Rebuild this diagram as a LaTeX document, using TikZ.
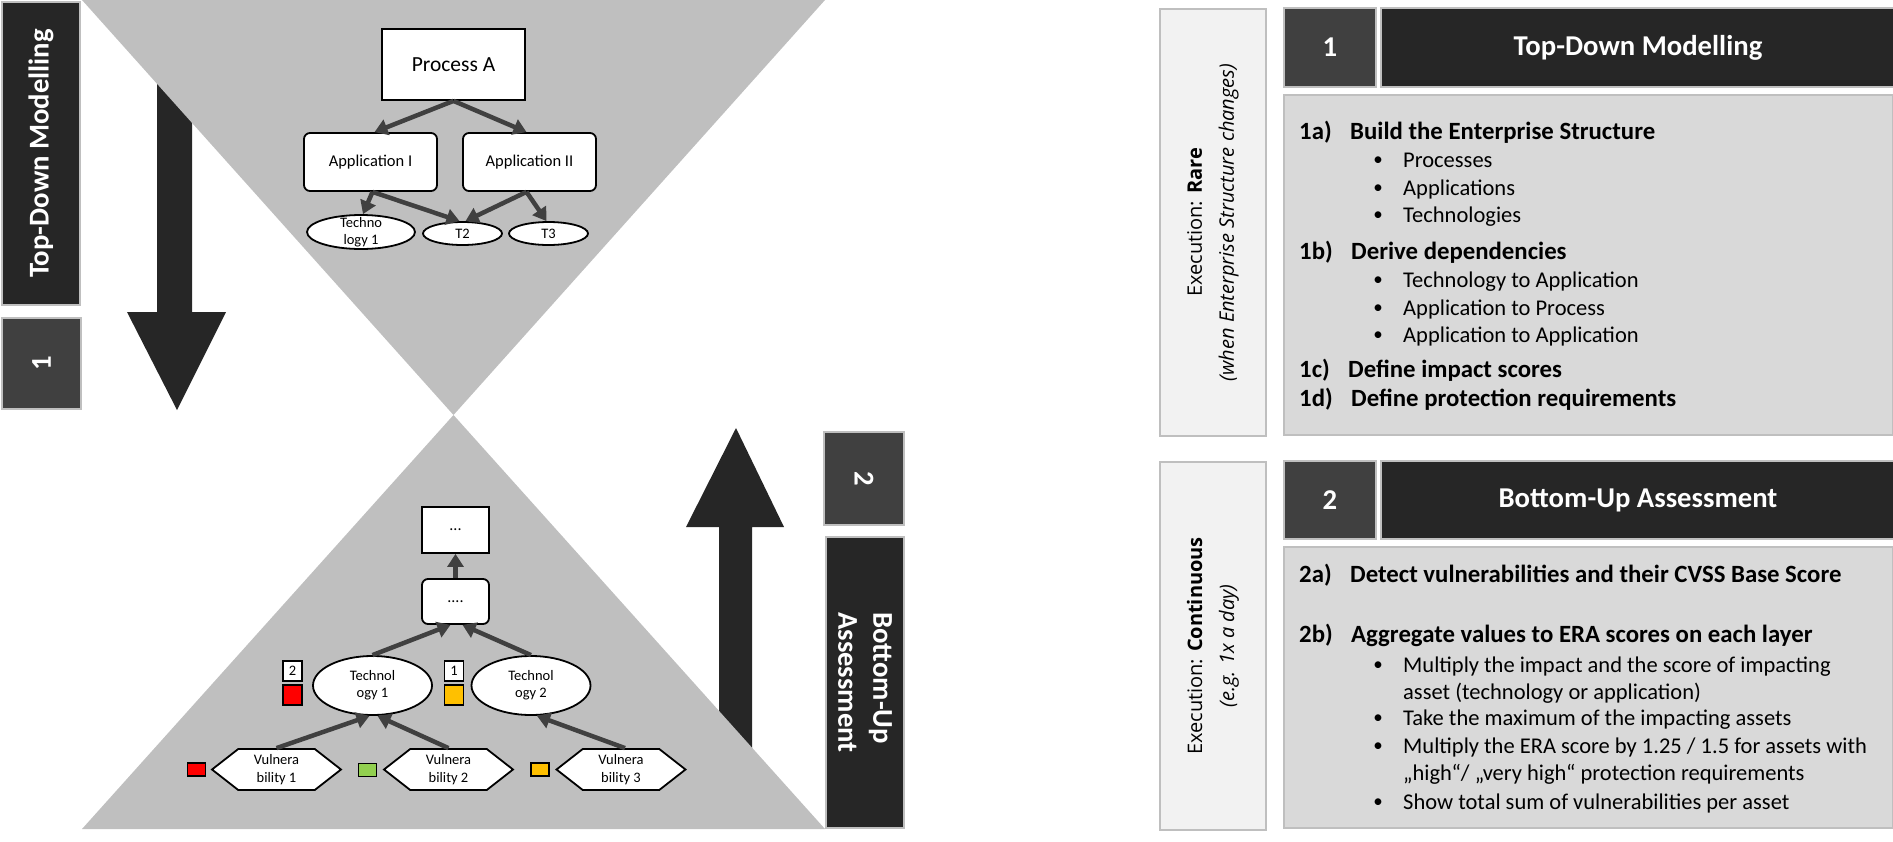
\documentclass[tikz,border=0pt]{standalone}
\usepackage{fontspec}
\setmainfont{Carlito}
\newfontfamily\execfont{Open Sans}
\usetikzlibrary{shapes,shapes.geometric,shapes.symbols,arrows.meta,positioning}
\definecolor{trigray}{HTML}{BFBFBF}
\definecolor{darkbox}{HTML}{262626}
\definecolor{numbox}{HTML}{404040}
\definecolor{depgray}{HTML}{404040}
\definecolor{panelgray}{HTML}{D9D9D9}
\definecolor{sidegray}{HTML}{F2F2F2}
\definecolor{rimgray}{HTML}{BFBFBF}
\definecolor{vred}{HTML}{FF0000}
\definecolor{vgreen}{HTML}{92D050}
\definecolor{vorange}{HTML}{FFC000}
\tikzset{procbx/.style={rectangle,draw=black,fill=white,line width=1.8pt,inner sep=0pt}}
\tikzset{appbx/.style={procbx,rounded corners=6pt}}
\tikzset{techel/.style={ellipse,draw=black,fill=white,line width=1.8pt,inner xsep=0pt,inner ysep=-4pt,align=center,font=\fontsize{14.5}{17}\selectfont}}
\tikzset{vulnhex/.style={signal,signal to=west and east,signal pointer angle=76,draw=black,fill=white,line width=1.8pt,minimum width=129pt,minimum height=41pt,inner sep=0pt,align=center,font=\fontsize{14.5}{17.5}\selectfont}}
\tikzset{sq/.style={rectangle,draw=black,line width=1.8pt,minimum width=18pt,minimum height=13pt,inner sep=0pt}}
\tikzset{badge/.style={rectangle,draw=black,fill=white,line width=1.5pt,minimum width=19pt,minimum height=20pt,inner sep=0pt,font=\fontsize{14.5}{16}\selectfont}}
\tikzset{dep/.style={draw=depgray,line width=4.5pt,-{Triangle[length=13pt,width=16pt]}}}
\tikzset{sidelbl/.style={rectangle,fill=darkbox,draw=rimgray,line width=2pt,text=white,inner sep=0pt,align=center,font=\bfseries\fontsize{28.7}{35}\selectfont}}
\tikzset{numlbl/.style={sidelbl,fill=numbox}}
\tikzset{execbx/.style={rectangle,fill=sidegray,draw=rimgray,line width=2.5pt,inner sep=0pt,align=center,font=\execfont\fontsize{20}{32}\selectfont}}
\tikzset{panelbx/.style={rectangle,fill=panelgray,draw=rimgray,line width=2.5pt,inner sep=0pt}}
\tikzset{stepno/.style={anchor=base west,inner sep=0pt,font=\bfseries\fontsize{24.8}{28}\selectfont}}
\tikzset{bultxt/.style={anchor=base west,inner sep=0pt,font=\fontsize{22.5}{26}\selectfont}}
\tikzset{bul/.style={anchor=base,inner sep=0pt,font=\fontsize{19}{20}\selectfont}}
\begin{document}
\begin{tikzpicture}[x=1pt,y=-1pt]
\useasboundingbox (0,0) rectangle (1893,841);

% big arrows, under the triangles
\fill [darkbox] (157,60) -- (192,60) -- (192,312) -- (226,312) -- (177,410) -- (127,312) -- (157,312) -- cycle;
\fill [darkbox] (719,800) -- (752,800) -- (752,527) -- (784,527) -- (736,428) -- (686,527) -- (719,527) -- cycle;

% hourglass
\fill [trigray] (82,0) -- (825,0) -- (453.5,415) -- cycle;
\fill [trigray] (453.5,415) -- (825,829) -- (82,829) -- cycle;

% side labels
\node [sidelbl,minimum width=303pt,minimum height=78pt,rotate=90] at (41,153.5) (tdlbl) {Top-Down Modelling};
\node [numlbl,minimum width=91pt,minimum height=79pt,rotate=90] at (41.5,363.5) (tdnum) {1};
\node [numlbl,minimum width=93pt,minimum height=80pt,rotate=-90] at (864,478.5) (bunum) {2};
\node [sidelbl,minimum width=291pt,minimum height=78pt,rotate=-90,align=left] at (865,682.5) (bulbl) {Bottom-Up\\Assessment};

% top-down tree
\node [procbx,minimum width=143pt,minimum height=71pt,font=\fontsize{21.5}{24}\selectfont] at (453.5,64.5) (procA) {Process A};
\node [appbx,minimum width=133pt,minimum height=58pt,font=\fontsize{16.5}{19}\selectfont] at (370.5,162) (appI) {Application I};
\node [appbx,minimum width=133pt,minimum height=58pt,font=\fontsize{16.5}{19}\selectfont] at (529.5,162) (appII) {Application II};
\node [techel,minimum width=108pt,minimum height=34pt] at (361,232) (tech1) {Techno\\logy 1};
\node [techel,minimum width=79pt,minimum height=23pt] at (462.5,233.5) (tech2) {T2};
\node [techel,minimum width=79pt,minimum height=23pt] at (548.5,233.5) (tech3) {T3};

\draw [dep] (procA.south) -- ([xshift=4pt]appI.north);
\draw [dep] (procA.south) -- ([xshift=-3pt]appII.north);
\draw [dep] ([xshift=2pt]appI.south) -- ([xshift=2pt]tech1.north);
\draw [dep] ([xshift=2pt]appI.south) -- ([xshift=-3pt]tech2.north);
\draw [dep] ([xshift=-3pt]appII.south) -- ([xshift=3pt]tech2.north);
\draw [dep] ([xshift=-3pt]appII.south) -- ([xshift=-2pt]tech3.north);

% bottom-up tree
\node [procbx,minimum width=67pt,minimum height=46pt,font=\fontsize{16}{18}\selectfont] at (455.5,530) (dots1) {...};
\node [appbx,minimum width=67pt,minimum height=45pt,font=\fontsize{16}{18}\selectfont] at (455.5,601.5) (dots2) {....};
\node [techel,minimum width=119pt,minimum height=59pt] at (372.5,685.5) (btech1) {Technol\\ogy 1};
\node [techel,minimum width=119pt,minimum height=59pt] at (531,685.5) (btech2) {Technol\\ogy 2};
\node [vulnhex] at (276.5,769.5) (vuln1) {Vulnera\\bility 1};
\node [vulnhex] at (448.5,769.5) (vuln2) {Vulnera\\bility 2};
\node [vulnhex] at (621,769.5) (vuln3) {Vulnera\\bility 3};

\node [sq,fill=vred] at (196.5,769.5) (sev1) {};
\node [sq,fill=vgreen] at (367.5,770) (sev2) {};
\node [sq,fill=vorange] at (540,769.5) (sev3) {};

\node [badge] at (292.5,671) (cnt1) {2};
\node [badge,fill=vred] at (292.5,695) (era1) {};
\node [badge] at (454,671) (cnt2) {1};
\node [badge,fill=vorange] at (454,695) (era2) {};

\draw [dep] (vuln1.north) -- ([xshift=-3pt]btech1.south);
\draw [dep] (vuln2.north) -- ([xshift=5pt]btech1.south);
\draw [dep] ([xshift=4pt]vuln3.north) -- ([xshift=6pt]btech2.south);
\draw [dep] (btech1.north) -- ([xshift=-5pt]dots2.south);
\draw [dep] (btech2.north) -- ([xshift=7pt]dots2.south);
\draw [dep] (dots2.north) -- (dots1.south);

% right panel, step 1
\node [execbx,minimum width=427pt,minimum height=106pt,rotate=90] at (1213,222.5) (exec1) {Execution: \textbf{Rare}\\\textit{(when Enterprise Structure changes)}};
\node [numlbl,minimum width=92pt,minimum height=79pt] at (1330,47.5) (num1) {1};
\node [sidelbl,minimum width=514pt,minimum height=79pt] at (1638,47.5) (title1) {Top-Down Modelling};
\node [panelbx,minimum width=609pt,minimum height=340pt] at (1588.5,265) (cont1) {};

\node [stepno] at (1299,139) (s1a) {1a)};
\node [stepno] at (1350,139) (h1a) {Build the Enterprise Structure};
\node [bul] at (1378,165) (b1) {•};
\node [bultxt] at (1403,167) (l1) {Processes};
\node [bul] at (1378,193) (b2) {•};
\node [bultxt] at (1403,195) (l2) {Applications};
\node [bul] at (1378,220) (b3) {•};
\node [bultxt] at (1403,222) (l3) {Technologies};
\node [stepno] at (1299,259) (s1b) {1b)};
\node [stepno] at (1351,259) (h1b) {Derive dependencies};
\node [bul] at (1378,285) (b4) {•};
\node [bultxt] at (1403,287) (l4) {Technology to Application};
\node [bul] at (1378,313) (b5) {•};
\node [bultxt] at (1403,315) (l5) {Application to Process};
\node [bul] at (1378,340) (b6) {•};
\node [bultxt] at (1403,342) (l6) {Application to Application};
\node [stepno] at (1299,377) (s1c) {1c)};
\node [stepno] at (1348,377) (h1c) {Define impact scores};
\node [stepno] at (1299,406) (s1d) {1d)};
\node [stepno] at (1351,406) (h1d) {Define protection requirements};

% right panel, step 2
\node [execbx,minimum width=368pt,minimum height=106pt,rotate=90] at (1213,646) (exec2) {Execution: \textbf{Continuous}\\\textit{(e.g. 1x a day)}};
\node [numlbl,minimum width=92pt,minimum height=78pt] at (1330,500) (num2) {2};
\node [sidelbl,minimum width=514pt,minimum height=78pt] at (1638,500) (title2) {Bottom-Up Assessment};
\node [panelbx,minimum width=609pt,minimum height=281pt] at (1588.5,687.5) (cont2) {};

\node [stepno] at (1299,582) (s2a) {2a)};
\node [stepno] at (1350,582) (h2a) {Detect vulnerabilities and their CVSS Base Score};
\node [stepno] at (1299,642) (s2b) {2b)};
\node [stepno] at (1351,642) (h2b) {Aggregate values to ERA scores on each layer};
\node [bul] at (1378,670) (b7) {•};
\node [bultxt] at (1403,672) (l7) {Multiply the impact and the score of impacting};
\node [bultxt] at (1403,699) (l7b) {asset (technology or application)};
\node [bul] at (1378,723) (b8) {•};
\node [bultxt] at (1403,725) (l8) {Take the maximum of the impacting assets};
\node [bul] at (1378,751) (b9) {•};
\node [bultxt] at (1403,753) (l9) {Multiply the ERA score by 1.25 / 1.5 for assets with};
\node [bultxt] at (1403,780) (l9b) {„high“/ „very high“ protection requirements};
\node [bul] at (1378,807) (b10) {•};
\node [bultxt] at (1403,809) (l10) {Show total sum of vulnerabilities per asset};
\end{tikzpicture}
\end{document}
